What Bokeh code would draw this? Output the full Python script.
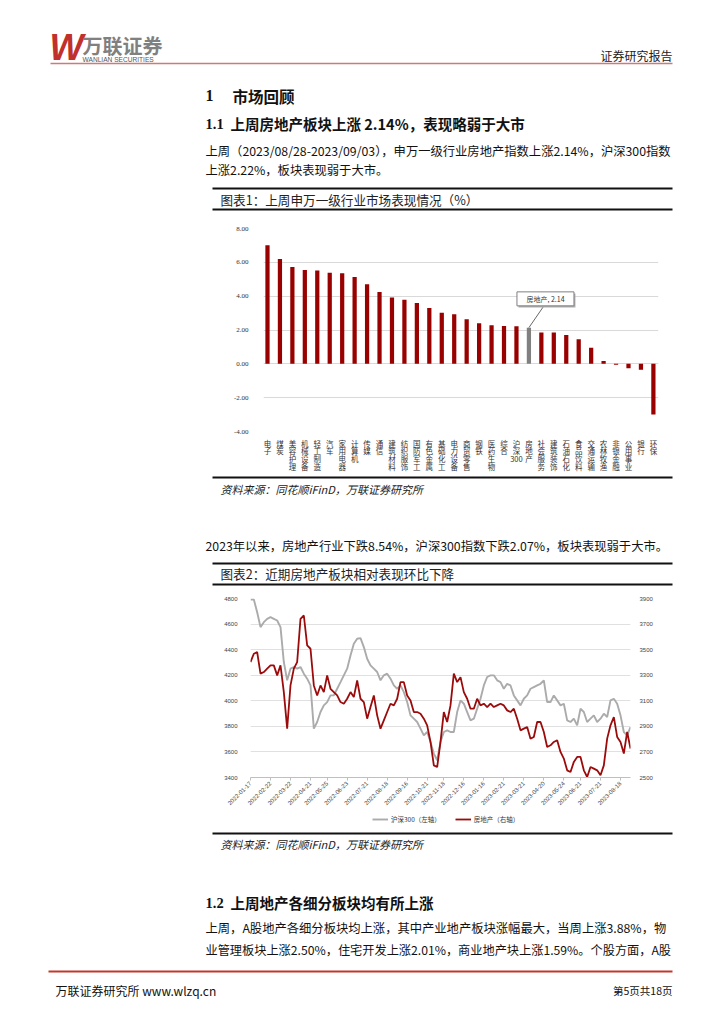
from bokeh.plotting import figure
from bokeh.models import Range1d, FixedTicker, LinearAxis, Legend, LegendItem, NumeralTickFormatter
from bokeh.embed import file_html
from bokeh.resources import INLINE
from bokeh.core.properties import value
import math

# ---------------- data ----------------
industries = ["电子", "煤炭", "美容护理", "机械设备", "轻工制造", "汽车", "家用电器", "计算机",
              "传媒", "通信", "建筑材料", "纺织服饰", "国防军工", "有色金属", "基础化工", "电力设备",
              "商贸零售", "钢铁", "医药生物", "综合", "沪深300", "房地产", "社会服务", "建筑装饰",
              "石油石化", "食品饮料", "交通运输", "农林牧渔", "非银金融", "公用事业", "银行", "环保"]
weekly_change = [7.01, 6.19, 5.72, 5.54, 5.52, 5.39, 5.35, 5.13,
                 4.70, 4.24, 3.92, 3.79, 3.59, 3.30, 3.02, 2.93,
                 2.64, 2.40, 2.28, 2.24, 2.22, 2.14, 1.85, 1.85,
                 1.70, 1.46, 0.95, 0.17, -0.05, -0.26, -0.35, -2.99]
bar_ticks = [-4, -2, 0, 2, 4, 6, 8]

csi300 = [4792, 4792, 4693, 4576, 4615, 4641, 4654, 4641, 4628, 4576,
          4303, 4160, 4251, 4264, 4251, 4264, 4212, 4173, 4120, 3782,
          3834, 3912, 3964, 3990, 4042, 4042, 4094, 4146, 4199, 4251,
          4355, 4446, 4485, 4490, 4420, 4329, 4277, 4251, 4225, 4160,
          4199, 4212, 4173, 4120, 4094, 4120, 4068, 3990, 3886, 3860,
          3834, 3782, 3730, 3756, 3678, 3587, 3535, 3678, 3756,
          3769, 3756, 3756, 3912, 4003, 3977, 3912, 3847, 3860, 3938,
          4016, 4120, 4186, 4199, 4199, 4160, 4146, 4094, 4133, 4120,
          4042, 4003, 3964, 4016, 4042, 4094, 4107, 4120, 4133, 4160,
          3990, 3990, 4042, 4003, 3964, 3977, 3847, 3834, 3860, 3808,
          3938, 3912, 3834, 3860, 3886, 3834, 3860, 3899, 3873, 4003,
          4016, 3977, 3886, 3756, 3730, 3795]
real_estate = [3403, 3468, 3481, 3312, 3325, 3351, 3377, 3377, 3299, 3377,
               3168, 2882, 3220, 3351, 3403, 3741, 3767, 3533, 3507, 3220,
               3142, 3220, 3168, 3299, 3194, 3168, 3142, 3090, 3077, 3116,
               3168, 3129, 3259, 3116, 3090, 2960, 3051, 3142, 2986, 2882,
               2947, 3012, 3077, 3064, 3116, 3246, 3246, 3142, 3103, 3012,
               3012, 2999, 2960, 2908, 2778, 2595, 2582, 2778, 3012,
               2934, 3064, 3312, 3246, 3285, 3168, 3116, 3038, 3038, 3116,
               3064, 3077, 3051, 3077, 3051, 3064, 3077, 3064, 3025, 3012,
               3038, 2960, 2869, 2882, 2895, 2804, 2817, 2934, 2934, 2856,
               2739, 2752, 2778, 2791, 2700, 2648, 2556, 2543, 2622, 2661,
               2661, 2556, 2504, 2582, 2569, 2556, 2517, 2595, 2804, 2908,
               2973, 2817, 2778, 2687, 2856, 2726]
date_labels = ["2022-01-17", "2022-02-22", "2022-03-22", "2022-04-21", "2022-05-25",
               "2022-06-23", "2022-07-21", "2022-08-18", "2022-09-16", "2022-10-21",
               "2022-11-18", "2022-12-16", "2023-01-16", "2023-02-21", "2023-03-21",
               "2023-04-20", "2023-05-24", "2023-06-21", "2023-07-21", "2023-08-18"]
left_ticks = [3400, 3600, 3800, 4000, 4200, 4400, 4600, 4800]
right_ticks = [2500, 2700, 2900, 3100, 3300, 3500, 3700, 3900]
series_names = ["沪深300（左轴）", "房地产（右轴）"]

CJK = "Noto Sans CJK SC"
SERIF = "Liberation Serif"
BAR_RED = "#990000"
LINE_RED = "#9b0b0b"
GRAY_LINE = "#ababab"
PAGE_W = 716
NAN = float("nan")


def band(top, bottom):
    p = figure(frame_width=PAGE_W, frame_height=bottom - top, x_range=Range1d(0, PAGE_W),
               y_range=Range1d(bottom, top), output_backend="svg", toolbar_location=None,
               x_axis_location=None, y_axis_location=None, min_border=0)
    p.grid.visible = False
    p.outline_line_color = None
    p.background_fill_color = "white"
    p.border_fill_color = "white"
    return p


def T(p, x, y, s, size, color="#111111", style="normal", align="left", font=CJK):
    p.text(x=[x], y=[y], text=[s], text_font=value(font), text_font_size=value(f"{size}px"),
           text_color=color, text_font_style=style, text_align=align, text_baseline="middle")


def rule(p, x0, x1, y, w=2, color="#111111"):
    p.segment(x0=[x0], y0=[y], x1=[x1], y1=[y], line_width=w, line_color=color)


# ---------------- band 1: header + section 1.1 ----------------
b1 = band(0, 214)
T(b1, 49, 47, "W", 36, color="#c0302c", style="bold italic", font="Liberation Sans")
T(b1, 82, 45, "万联证券", 20, color="#808080", style="bold")
T(b1, 82, 59, "WANLIAN SECURITIES", 6.6, color="#555555", font="Liberation Sans")
rule(b1, 50, 672, 63, w=1.5, color="#cf7a78")
T(b1, 672, 55, "证券研究报告", 12, color="#222222", align="right")
T(b1, 205, 95, "1", 16, style="bold", font=SERIF)
T(b1, 232, 95, "市场回顾", 15.5, style="bold")
T(b1, 205, 123, "1.1", 14.5, style="bold", font=SERIF)
T(b1, 230, 123, "上周房地产板块上涨 2.14%，表现略弱于大市", 14.5, style="bold")
T(b1, 205, 150, "上周（2023/08/28-2023/09/03），申万一级行业房地产指数上涨2.14%，沪深300指数", 12.3)
T(b1, 205, 169, "上涨2.22%，板块表现弱于大市。", 12.3)
rule(b1, 212, 672, 188)
T(b1, 220, 199, "图表1：上周申万一级行业市场表现情况（%）", 12.6, color="#222222")
rule(b1, 212, 672, 209)

# ---------------- chart 1: bars ----------------
p1 = figure(frame_width=395, frame_height=203, x_range=Range1d(-0.32, 31.41), y_range=Range1d(-4, 8),
            output_backend="svg", toolbar_location=None,
            min_border_left=263, min_border_right=58, min_border_top=14, min_border_bottom=43)
p1.outline_line_color = None
xs = list(range(len(industries)))
bar_colors = ["#808080" if c == "房地产" else BAR_RED for c in industries]
p1.vbar(x=xs, top=weekly_change, bottom=0, width=0.34, fill_color=bar_colors, line_color=None)

p1.yaxis.ticker = FixedTicker(ticks=bar_ticks)
p1.yaxis.formatter = NumeralTickFormatter(format="0.00")
p1.yaxis.axis_line_color = None
p1.yaxis.major_tick_line_color = None
p1.yaxis.minor_tick_line_color = None
p1.yaxis.major_label_text_font = SERIF
p1.yaxis.major_label_text_font_size = "7px"
p1.yaxis.major_label_text_color = "#333333"
p1.yaxis.major_label_standoff = 9
p1.ygrid.ticker = FixedTicker(ticks=bar_ticks)
p1.ygrid.grid_line_color = "#d9d9d9"
p1.xgrid.visible = False

labels = {}
for i, c in enumerate(industries):
    if c == "沪深300":
        labels[i] = "沪\n深\n300"
    else:
        labels[i] = "\n".join(list(c))
p1.xaxis.ticker = FixedTicker(ticks=xs)
p1.xaxis.major_label_overrides = labels
p1.xaxis.axis_line_color = None
p1.xaxis.major_tick_line_color = None
p1.xaxis.minor_tick_line_color = None
p1.xaxis.major_label_text_font = CJK
p1.xaxis.major_label_text_font_size = "7.5px"
p1.xaxis.major_label_text_line_height = 0.7
p1.xaxis.major_label_text_color = "#333333"
p1.xaxis.major_label_standoff = 0

hi = industries.index("房地产")
hv = weekly_change[hi]
p1.segment(x0=[hi], y0=[hv], x1=[hi + 1.2], y1=[hv + 1.28], line_color="#404040", line_width=0.8)
p1.rect(x=[hi + 1.45], y=[hv + 1.61], width=57, height=14, width_units="screen", height_units="screen",
        fill_color="#b0b0b0", line_color=None)
p1.rect(x=[hi + 1.33], y=[hv + 1.7], width=57, height=14, width_units="screen", height_units="screen",
        fill_color="white", line_color="#7f7f7f", line_width=1)
p1.text(x=[hi + 1.33], y=[hv + 1.7], text=[f"房地产, {hv:.2f}"], text_align="center",
        text_baseline="middle", text_font=value(CJK), text_font_size=value("7px"), text_color="#333333")

# ---------------- band 3 ----------------
b3 = band(474, 592)
rule(b3, 212, 672, 477)
T(b3, 220, 488, "资料来源：同花顺iFinD，万联证券研究所", 11, color="#222222", style="italic")
T(b3, 205, 545, "2023年以来，房地产行业下跌8.54%，沪深300指数下跌2.07%，板块表现弱于大市。", 12.3)
rule(b3, 212, 672, 563)
T(b3, 220, 573, "图表2：近期房地产板块相对表现环比下降", 12.6, color="#222222")
rule(b3, 212, 672, 584)

# ---------------- chart 2: lines ----------------
p2 = figure(frame_width=380, frame_height=179, x_range=Range1d(0, len(csi300) - 1),
            y_range=Range1d(3400, 4800), output_backend="svg", toolbar_location=None,
            min_border_left=250, min_border_right=86, min_border_top=6, min_border_bottom=34)
p2.outline_line_color = None
p2.extra_y_ranges = {"right": Range1d(2500, 3900)}
t = list(range(len(csi300)))
p2.line(t, csi300, line_color=GRAY_LINE, line_width=1.9)
p2.line(t, real_estate, y_range_name="right", line_color=LINE_RED, line_width=1.8)

p2.yaxis.ticker = FixedTicker(ticks=left_ticks)
p2.yaxis.axis_line_color = None
p2.yaxis.major_tick_line_color = None
p2.yaxis.minor_tick_line_color = None
p2.yaxis.major_label_text_font_size = "6px"
p2.yaxis.major_label_text_color = "#444444"
p2.yaxis.major_label_standoff = 7
p2.ygrid.ticker = FixedTicker(ticks=left_ticks)
p2.ygrid.grid_line_color = "#e0e0e0"
p2.xgrid.visible = False

ra = LinearAxis(y_range_name="right", ticker=FixedTicker(ticks=right_ticks))
ra.axis_line_color = None
ra.major_tick_line_color = None
ra.minor_tick_line_color = None
ra.major_label_text_font_size = "6px"
ra.major_label_text_color = "#444444"
ra.major_label_standoff = 3
p2.add_layout(ra, "right")

step = (len(csi300) - 1) / 19.5
xt = [round(k * step) for k in range(len(date_labels))]
p2.xaxis.ticker = FixedTicker(ticks=xt)
p2.xaxis.major_label_overrides = {x: d for x, d in zip(xt, date_labels)}
p2.xaxis.axis_line_color = "#bfbfbf"
p2.xaxis.major_tick_line_color = "#bfbfbf"
p2.xaxis.major_tick_in = 0
p2.xaxis.major_tick_out = 3
p2.xaxis.minor_tick_line_color = None
p2.xaxis.major_label_orientation = math.pi / 4
p2.xaxis.major_label_text_font_size = "6px"
p2.xaxis.major_label_text_color = "#444444"
p2.xaxis.major_label_standoff = 2

# ---------------- band 5 (legend of chart 2 + section 1.2 + footer) ----------------
b5 = band(811, 1016)
lg_g = b5.line(x=[NAN], y=[NAN], line_color=GRAY_LINE, line_width=1.9)
lg_r = b5.line(x=[NAN], y=[NAN], line_color=LINE_RED, line_width=1.8)
legend = Legend(items=[LegendItem(label=series_names[0], renderers=[lg_g], index=0),
                       LegendItem(label=series_names[1], renderers=[lg_r], index=0)],
                orientation="horizontal", location=(372, 192), label_text_font=CJK,
                label_text_font_size="6.5px", label_text_color="#333333",
                glyph_width=16, glyph_height=8, label_height=10, label_standoff=3, spacing=14,
                border_line_color=None, background_fill_alpha=0, padding=1, margin=0)
b5.add_layout(legend)
rule(b5, 212, 672, 833)
T(b5, 220, 843, "资料来源：同花顺iFinD，万联证券研究所", 11, color="#222222", style="italic")
T(b5, 205, 902, "1.2", 14.5, style="bold", font=SERIF)
T(b5, 230, 902, "上周地产各细分板块均有所上涨", 14.5, style="bold")
T(b5, 205, 927, "上周，A股地产各细分板块均上涨，其中产业地产板块涨幅最大，当周上涨3.88%，物", 12.3)
T(b5, 205, 949, "业管理板块上涨2.50%，住宅开发上涨2.01%，商业地产块上涨1.59%。个股方面，A股", 12.2)
rule(b5, 48, 672, 971, w=2, color="#c0392b")
T(b5, 55, 990, "万联证券研究所 www.wlzq.cn", 12, color="#111111")
T(b5, 672, 990, "第5页共18页", 10.5, color="#111111", align="right")

open("out.html", "w").write(file_html([b1, p1, b3, p2, b5], INLINE))
